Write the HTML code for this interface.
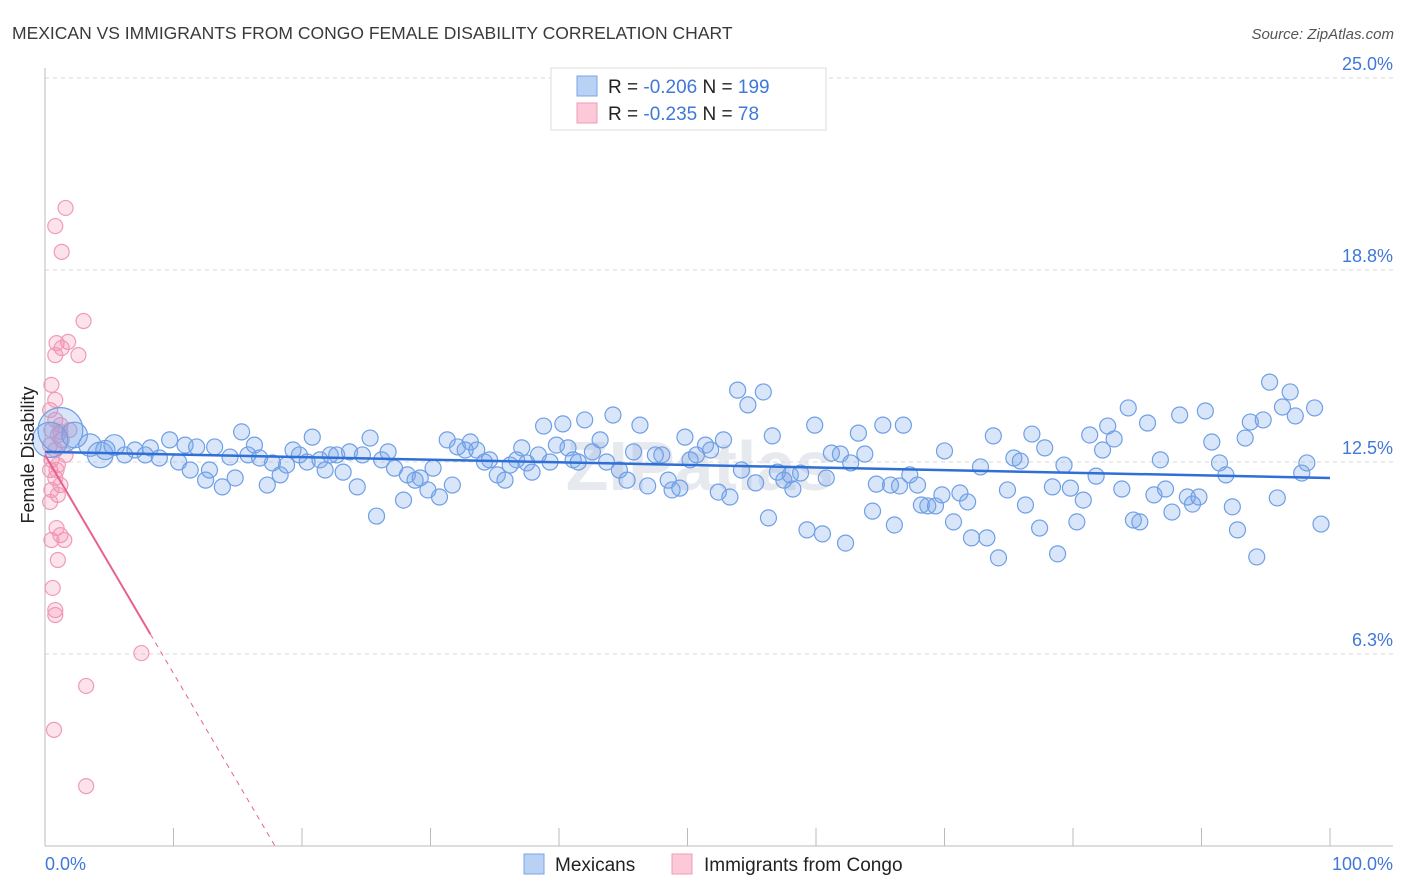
<!DOCTYPE html>
<html><head><meta charset="utf-8"><style>
body{margin:0;background:#fff;font-family:"Liberation Sans",sans-serif;}
#wrap{position:relative;width:1406px;height:892px;overflow:hidden;}
</style></head><body>
<div id="wrap">
<svg id="chart" width="1406" height="892" xmlns="http://www.w3.org/2000/svg">
<text x="12" y="39" font-size="17.5" fill="#3a3a3a">MEXICAN VS IMMIGRANTS FROM CONGO FEMALE DISABILITY CORRELATION CHART</text>
<text x="1394" y="39" font-size="15" fill="#555" font-style="italic" text-anchor="end">Source: ZipAtlas.com</text>
<text x="700" y="490" font-size="70" fill="#e6e9ee" text-anchor="middle" font-weight="bold">ZIPatlas</text>
<g id="grid"></g><g id="axes"></g><g id="pinkPts"></g><g id="bluePts"></g><g id="trends"></g>
<text transform="translate(34,455) rotate(-90)" font-size="18" fill="#222" text-anchor="middle">Female Disability</text>
<g>
<rect x="551" y="68" width="275" height="62" fill="#fff" stroke="#ddd"/>
<rect x="577" y="76" width="20" height="20" fill="#b9d1f5" stroke="#7aa5e8"/>
<rect x="577" y="103" width="20" height="20" fill="#fbc9d8" stroke="#f19ab7"/>
<text x="608" y="93" font-size="19" fill="#222">R = <tspan fill="#3f78d8">-0.206</tspan>   N = <tspan fill="#3f78d8">199</tspan></text>
<text x="608" y="120" font-size="19" fill="#222">R = <tspan fill="#3f78d8">-0.235</tspan>   N = <tspan fill="#3f78d8">  78</tspan></text>
</g>
<g>
<rect x="524" y="854" width="20" height="20" fill="#b9d1f5" stroke="#7aa5e8"/>
<text x="555" y="871" font-size="19" fill="#222">Mexicans</text>
<rect x="672" y="854" width="20" height="20" fill="#fbc9d8" stroke="#f19ab7"/>
<text x="704" y="871" font-size="19" fill="#222">Immigrants from Congo</text>
</g>
</svg>
</div>
<script>
const yTicks=[6.25,12.5,18.75,25];
const yTickLabels=["6.3%","12.5%","18.8%","25.0%"];
const xTickVals=[0,10,20,30,40,50,60,70,80,90,100];
const xEndLabels=["0.0%","100.0%"];
const blueX=[0.4,1.2,2.3,3.5,4.3,4.7,5.4,6.2,7.0,7.8,8.2,8.9,9.7,10.4,10.9,11.3,11.8,12.5,12.8,13.2,13.8,14.4,14.8,15.3,15.8,16.3,16.7,17.3,17.7,18.3,18.8,19.3,19.8,20.4,20.8,21.4,21.8,22.2,22.7,23.2,23.7,24.3,24.7,25.3,25.8,26.2,26.7,27.2,27.9,28.2,28.8,29.2,29.8,30.2,30.7,31.3,31.7,32.1,32.7,33.1,33.6,34.2,34.6,35.2,35.8,36.2,36.7,37.1,37.5,37.9,38.4,38.8,39.3,39.8,40.3,40.7,41.1,41.5,42.0,42.6,43.2,43.7,44.2,44.7,45.3,45.8,46.3,46.9,47.5,48.0,48.5,48.8,49.4,49.8,50.2,50.7,51.4,51.8,52.4,52.8,53.3,53.9,54.2,54.7,55.3,55.9,56.3,56.6,57.0,57.5,58.0,58.2,58.8,59.3,59.9,60.5,60.8,61.2,61.9,62.3,62.7,63.3,63.8,64.4,64.7,65.2,65.8,66.1,66.5,66.8,67.3,67.9,68.2,68.7,69.3,69.8,70.0,70.7,71.2,71.8,72.1,72.8,73.3,73.8,74.2,74.9,75.4,75.9,76.3,76.8,77.4,77.8,78.4,78.8,79.3,79.8,80.3,80.8,81.3,81.8,82.3,82.7,83.2,83.8,84.3,84.7,85.2,85.8,86.3,86.8,87.2,87.7,88.3,88.9,89.3,89.8,90.3,90.8,91.4,91.9,92.4,92.8,93.4,93.8,94.3,94.8,95.3,95.9,96.3,96.9,97.3,97.8,98.2,98.8,99.3];
const blueY=[13.22,13.54,13.38,13.05,12.73,12.89,13.05,12.73,12.89,12.73,12.96,12.63,13.22,12.50,13.05,12.24,12.99,11.91,12.24,12.99,11.69,12.66,11.98,13.48,12.73,13.05,12.63,11.75,12.47,12.08,12.40,12.89,12.73,12.50,13.31,12.57,12.24,12.73,12.73,12.17,12.83,11.69,12.73,13.28,10.74,12.57,12.83,12.30,11.26,12.08,11.91,11.98,11.59,12.30,11.36,13.22,11.75,12.99,12.89,13.15,12.89,12.50,12.57,12.08,11.91,12.40,12.57,12.96,12.47,12.17,12.73,13.67,12.50,13.05,13.74,12.96,12.57,12.50,13.87,12.83,13.22,12.50,14.03,12.24,11.91,12.83,13.70,11.72,12.73,12.73,11.91,11.59,11.65,13.31,12.57,12.73,13.05,12.89,11.52,13.22,11.36,14.84,12.24,14.36,11.82,14.78,10.68,13.35,12.17,11.91,12.08,11.62,12.14,10.29,13.70,10.16,11.98,12.79,12.76,9.86,12.47,13.44,12.76,10.90,11.78,13.70,11.75,10.45,11.72,13.70,12.08,11.75,11.10,11.07,11.07,11.43,12.86,10.55,11.49,11.20,10.03,12.34,10.03,13.35,9.38,11.59,12.63,12.53,11.10,13.41,10.35,12.96,11.69,9.51,12.40,11.65,10.55,11.26,13.38,12.04,12.89,13.67,13.25,11.62,14.26,10.61,10.55,13.77,11.43,12.57,11.62,10.87,14.03,11.36,11.13,11.36,14.16,13.15,12.47,12.08,11.04,10.29,13.28,13.80,9.41,13.87,15.10,11.33,14.29,14.78,14.00,12.14,12.47,14.26,10.48];
const blueWeight=[2.2,2.8,1.6,1.4,1.6,1.2,1.3];
const pinkX=[1.6,0.8,1.3,3.0,0.9,1.8,1.3,2.6,0.8,0.5,0.8,0.4,0.8,1.2,0.5,1.0,1.3,0.4,0.8,1.6,0.5,1.0,0.4,0.8,1.2,0.5,1.0,0.4,0.9,1.2,0.5,1.5,1.0,0.6,0.8,0.8,7.5,3.2,0.7,3.2,1.2,1.9,0.9];
const pinkY=[20.77,20.18,19.34,17.09,16.37,16.41,16.21,15.98,15.98,15.01,14.52,14.19,13.87,13.70,13.54,13.38,13.22,13.05,12.89,12.73,12.57,12.40,12.24,11.98,11.75,11.59,11.43,11.20,10.35,10.12,9.96,9.96,9.31,8.40,7.68,7.52,6.28,5.21,3.78,1.95,13.48,13.54,12.24];
const blueTrend=[12.83,11.98];
const pinkTrend=[12.73,0];
const pinkSolidEnd=8.2, pinkZeroAt=17.9;

const NS="http://www.w3.org/2000/svg";
const X0=45,XW=12.85,Y0=846,YU=30.72;
const xs=p=>X0+p*XW, ys=v=>Y0-v*YU;
function mk(tag,attrs,parent){const e=document.createElementNS(NS,tag);for(const k in attrs)e.setAttribute(k,attrs[k]);document.getElementById(parent).appendChild(e);return e;}

yTicks.forEach((t,i)=>{
 const l=mk('line',{x1:45,x2:1393,y1:ys(t),y2:ys(t),stroke:'#d8d8d8','stroke-dasharray':'4,4'},'grid');
 
 
 const tx=mk('text',{x:1393,y:ys(t)-8,'text-anchor':'end','font-size':18,fill:'#3f78d8'},'grid');
 tx.textContent=yTickLabels[i];
 
 
});
let a=mk('line',{x1:45,x2:45,y1:68,y2:846,stroke:'#bbb'},'axes');


a=mk('line',{x1:45,x2:1393,y1:846,y2:846,stroke:'#bbb'},'axes');


xTickVals.forEach(v=>{
 const t=mk('line',{x1:xs(v),x2:xs(v),y1:828,y2:846,stroke:'#bbb'},'axes');
 
 
});
[[0,'start',45],[100,'end',1393]].forEach((d,i)=>{
 const t=mk('text',{x:d[2],y:870,'text-anchor':d[1],'font-size':18,fill:'#3f78d8'},'axes');
 t.textContent=xEndLabels[i];
 
 
});
pinkX.forEach((x,i)=>{
 const c=mk('circle',{cx:xs(x),cy:ys(pinkY[i]),r:7.5,fill:'rgba(245,140,175,0.25)',stroke:'#f09ab8','stroke-width':1.2},'pinkPts');
 
 
});
blueX.forEach((x,i)=>{
 const w=blueWeight[i]||1;
 const c=mk('circle',{cx:xs(x),cy:ys(blueY[i]),r:8*w,fill:'rgba(120,165,235,0.28)',stroke:'#6f9fe6','stroke-width':1.2},'bluePts');
 
 
});
let tl=mk('line',{x1:xs(0),y1:ys(blueTrend[0]),x2:xs(100),y2:ys(blueTrend[1]),stroke:'#2f6fd6','stroke-width':2.5},'trends');


const pv=p=>pinkTrend[0]+(pinkTrend[1]-pinkTrend[0])*p/pinkZeroAt;
tl=mk('line',{x1:xs(0),y1:ys(pv(0)),x2:xs(pinkSolidEnd),y2:ys(pv(pinkSolidEnd)),stroke:'#e8608f','stroke-width':2},'trends');


tl=mk('line',{x1:xs(pinkSolidEnd),y1:ys(pv(pinkSolidEnd)),x2:xs(pinkZeroAt),y2:ys(0),stroke:'#e8608f','stroke-width':1,'stroke-dasharray':'5,5'},'trends');


</script>
</body></html>
